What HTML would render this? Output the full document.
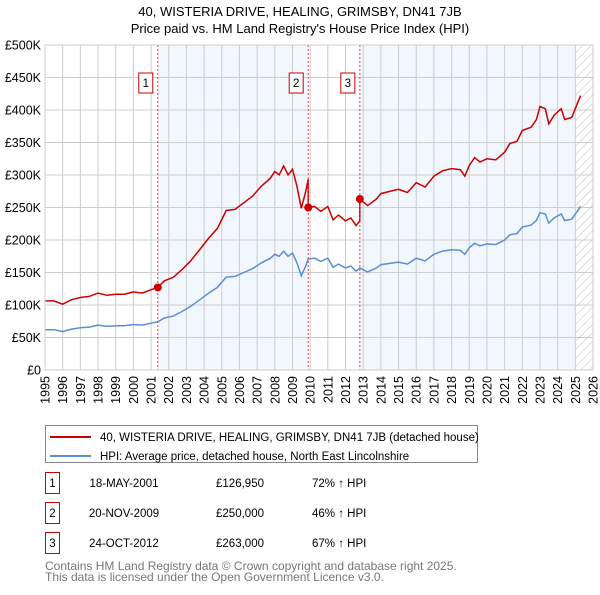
<!DOCTYPE html>
<html><head><meta charset="utf-8"><style>
body{margin:0;width:600px;height:590px;background:#fff;font-family:"Liberation Sans",sans-serif;overflow:hidden}
svg text{font-family:"Liberation Sans",sans-serif}
</style></head><body>
<svg id="c" width="600" height="590" viewBox="0 0 600 590">
<defs><pattern id="hatch" width="6" height="6" patternUnits="userSpaceOnUse" patternTransform="rotate(45)"><line x1="0" y1="0" x2="0" y2="6" stroke="#bbb" stroke-width="1"/></pattern></defs>
<text x="300" y="16" text-anchor="middle" font-size="13">40, WISTERIA DRIVE, HEALING, GRIMSBY, DN41 7JB</text>
<text x="300" y="33" text-anchor="middle" font-size="13">Price paid vs. HM Land Registry's House Price Index (HPI)</text>
<g id="plot"></g>
<rect x="45.5" y="425.5" width="432" height="37" fill="#fff" stroke="#888"/>
<line x1="50" y1="437" x2="91" y2="437" stroke="#cc0000" stroke-width="2"/>
<text x="100" y="441" font-size="11.5">40, WISTERIA DRIVE, HEALING, GRIMSBY, DN41 7JB (detached house)</text>
<line x1="50" y1="456" x2="91" y2="456" stroke="#5b8fd4" stroke-width="2"/>
<text x="100" y="460" font-size="11.5">HPI: Average price, detached house, North East Lincolnshire</text>
<g id="tbl" font-size="11.5"></g>
<text x="45" y="570" font-size="12" fill="#777">Contains HM Land Registry data © Crown copyright and database right 2025.</text>
<text x="45" y="581" font-size="12" fill="#777">This data is licensed under the Open Government Licence v3.0.</text>
</svg>
<script>
const years=[1995,1995.5,1996,1996.5,1997,1997.5,1998,1998.5,1999,1999.5,2000,2000.5,2001,2001.38,2001.75,2002.25,2002.75,2003.25,2003.75,2004.25,2004.75,2005.25,2005.75,2006.25,2006.75,2007.25,2007.75,2008,2008.25,2008.5,2008.75,2009,2009.25,2009.5,2009.75,2009.89,2010.25,2010.6,2011,2011.3,2011.6,2012,2012.3,2012.6,2012.81,2013.25,2013.75,2014,2014.5,2015,2015.5,2016,2016.5,2017,2017.5,2018,2018.5,2018.75,2019,2019.3,2019.6,2020,2020.5,2021,2021.3,2021.7,2022,2022.5,2022.8,2023,2023.3,2023.5,2023.8,2024.2,2024.4,2024.8,2025,2025.3];
const hpi=[62,62,59,63,65,66,69,67,68,68,70,69,72,74,80,83,90,98,108,118,127,143,144,150,156,165,172,178,175,183,175,180,165,145,160,171,172,167,172,158,163,157,160,152,157,151,157,162,164,166,163,172,168,178,183,185,184,178,188,195,191,194,193,200,208,210,220,223,230,242,240,226,234,240,230,232,240,252];
const saleYears=[2001.38,2009.89,2012.81];
const salePrices=[126.95,250,263];
const saleLabels=["1","2","3"];
const saleDates=["18-MAY-2001","20-NOV-2009","24-OCT-2012"];
const salePriceText=["£126,950","£250,000","£263,000"];
const salePct=["72% ↑ HPI","46% ↑ HPI","67% ↑ HPI"];
const yTicks=[0,50,100,150,200,250,300,350,400,450,500];
const yTickLabels=["£0","£50K","£100K","£150K","£200K","£250K","£300K","£350K","£400K","£450K","£500K"];
const xTicks=[1995,1996,1997,1998,1999,2000,2001,2002,2003,2004,2005,2006,2007,2008,2009,2010,2011,2012,2013,2014,2015,2016,2017,2018,2019,2020,2021,2022,2023,2024,2025,2026];

const NS="http://www.w3.org/2000/svg";
const L=45,R=593,T=45,B=370;
const X=y=>L+(y-1995)/(2026-1995)*(R-L);
const Y=v=>B-v/500*(B-T);
const g=document.getElementById('plot');
function mk(t,a,p){const e=document.createElementNS(NS,t);for(const k in a)e.setAttribute(k,a[k]);(p||g).appendChild(e);return e;}
let e;
e=mk('rect',{x:L,y:T,width:R-L,height:B-T,fill:'#fff'});


e=mk('rect',{x:X(saleYears[0]),y:T,width:X(saleYears[1])-X(saleYears[0]),height:B-T,fill:'#f2f6fd'});


e=mk('rect',{x:X(saleYears[2]),y:T,width:X(2025)-X(saleYears[2]),height:B-T,fill:'#f2f6fd'});


e=mk('rect',{x:X(2025),y:T,width:R-X(2025),height:B-T,fill:'url(#hatch)'});


yTicks.forEach((v,i)=>{
 e=mk('line',{x1:L,x2:R,y1:Y(v),y2:Y(v),stroke:'#ccc'});
 
 
 e=mk('text',{x:L-4,y:Y(v)+4.5,'text-anchor':'end','font-size':12.5});
 e.textContent=yTickLabels[i];
 
 
});
xTicks.forEach(v=>{
 e=mk('line',{x1:X(v),x2:X(v),y1:T,y2:B,stroke:'#ccc'});
 
 
 const tx=X(v)+4.5,ty=376;
 e=mk('text',{x:tx,y:ty,'text-anchor':'end','font-size':12.5,transform:`rotate(-90 ${tx} ${ty})`});
 e.textContent=v;
 
 
});
function hpiAt(y){for(let i=0;i<years.length-1;i++)if(y>=years[i]&&y<=years[i+1]){const t=(y-years[i])/(years[i+1]-years[i]);return hpi[i]+t*(hpi[i+1]-hpi[i]);}return hpi[hpi.length-1];}
function factorAt(y){let f=salePrices[0]/hpiAt(saleYears[0]);for(let i=0;i<saleYears.length;i++)if(y>=saleYears[i]-1e-6)f=salePrices[i]/hpiAt(saleYears[i]);return f;}
let hp='',rp='';
years.forEach((y,i)=>{hp+=(i?'L':'M')+X(y).toFixed(1)+','+Y(hpi[i]).toFixed(1);});
let pts=[];years.forEach((y,i)=>{pts.push([y,hpi[i]*factorAt(y)]);});
saleYears.forEach((s,j)=>{const before=hpiAt(s)*factorAt(s-0.001);pts.push([s-0.0001,before]);pts.push([s,salePrices[j]]);});
pts.sort((a,b)=>a[0]-b[0]);
pts.forEach((p,i)=>{rp+=(i?'L':'M')+X(p[0]).toFixed(1)+','+Y(p[1]).toFixed(1);});
e=mk('path',{d:hp,fill:'none',stroke:'#5b8fd4','stroke-width':1.5});


e=mk('path',{d:rp,fill:'none',stroke:'#cc0000','stroke-width':1.5});


saleYears.forEach((s,j)=>{
 e=mk('line',{x1:X(s),x2:X(s),y1:T,y2:B,stroke:'#e04040','stroke-dasharray':'2,2'});
 
 
 e=mk('circle',{cx:X(s),cy:Y(salePrices[j]),r:4,fill:'#cc0000'});
 
 
 e=mk('rect',{x:X(s)-19,y:73,width:14,height:20,fill:'#fff',stroke:'#cc0000'});
 
 
 e=mk('text',{x:X(s)-12,y:87,'text-anchor':'middle','font-size':11.5});
 e.textContent=saleLabels[j];
 
 
});
e=mk('rect',{x:L,y:T,width:R-L,height:B-T,fill:'none',stroke:'#ccc'});


const tb=document.getElementById('tbl');
saleYears.forEach((s,j)=>{
 const cy=483+j*30;
 e=mk('rect',{x:45.5,y:cy-10.5,width:14,height:21,fill:'#fff',stroke:'#cc0000'},tb);
 
 
 e=mk('text',{x:52.5,y:cy+4,'text-anchor':'middle'},tb);e.textContent=saleLabels[j];
 
 
 e=mk('text',{x:124,y:cy+4,'text-anchor':'middle'},tb);e.textContent=saleDates[j];
 
 
 e=mk('text',{x:240,y:cy+4,'text-anchor':'middle'},tb);e.textContent=salePriceText[j];
 
 
 e=mk('text',{x:312,y:cy+4},tb);e.textContent=salePct[j];
 
 
});
</script>
</body></html>
